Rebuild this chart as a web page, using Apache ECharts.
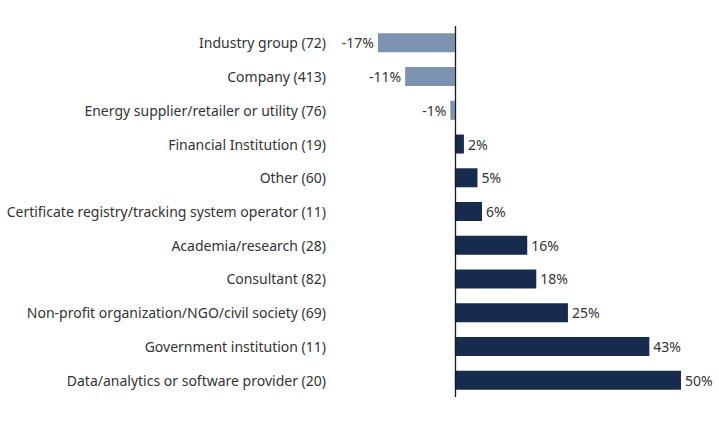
<!DOCTYPE html>
<html>
<head>
<meta charset="utf-8">
<script src="https://cdn.jsdelivr.net/npm/echarts@6/dist/echarts.min.js"></script>
<style>html,body{margin:0;padding:0;background:#fff}#c{width:719px;height:423px}</style>
</head>
<body>
<div id="c"></div>
<script>
const categories = [
  "Industry group (72)",
  "Company (413)",
  "Energy supplier/retailer or utility (76)",
  "Financial Institution (19)",
  "Other (60)",
  "Certificate registry/tracking system operator (11)",
  "Academia/research (28)",
  "Consultant (82)",
  "Non-profit organization/NGO/civil society (69)",
  "Government institution (11)",
  "Data/analytics or software provider (20)"
];
const values = [-17, -11, -1, 2, 5, 6, 16, 18, 25, 43, 50];
const negColor = "#7c92b1";
const posColor = "#172b4e";

const chart = echarts.init(document.getElementById("c"), null, { renderer: "svg" });
chart.setOption({
  backgroundColor: "#fff",
  animation: false,
  textStyle: { fontFamily: "Noto Sans" },
  grid: { left: 378, right: 38, top: 26, bottom: 26 },
  xAxis: {
    type: "value", min: -17, max: 50, show: false
  },
  yAxis: {
    type: "category", data: categories, inverse: true,
    axisLine: { show: false }, axisTick: { show: false },
    axisLabel: { margin: 52, fontSize: 14, color: "#333333", fontFamily: "Noto Sans" }
  },
  series: [{
    type: "bar",
    barWidth: 19,
    data: values.map(v => ({
      value: v,
      itemStyle: { color: v < 0 ? negColor : posColor },
      label: { position: v < 0 ? "left" : "right" }
    })),
    label: {
      show: true, fontSize: 14, color: "#333333", distance: 4,
      fontFamily: "Noto Sans",
      formatter: p => p.value + "%"
    },
    markLine: {
      silent: true, symbol: "none", label: { show: false },
      lineStyle: { color: "#1a1a1a", width: 1.3, type: "solid" },
      data: [{ xAxis: 0 }]
    }
  }]
});
</script>
</body>
</html>
